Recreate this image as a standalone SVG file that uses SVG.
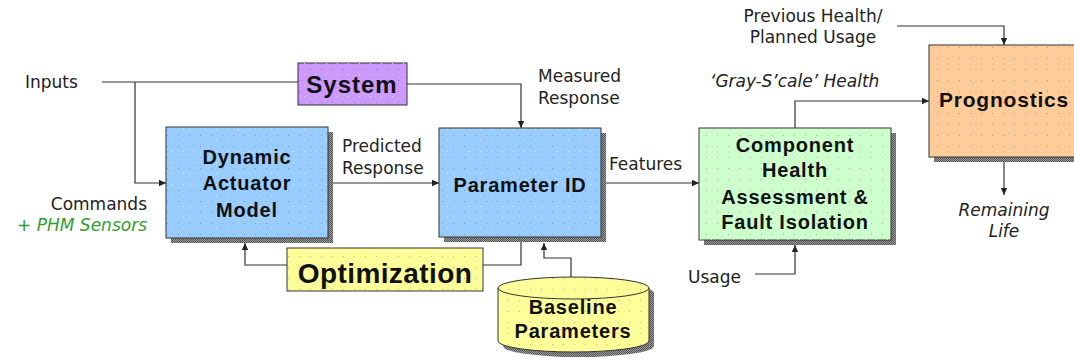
<svg xmlns="http://www.w3.org/2000/svg" width="1074" height="360" viewBox="0 0 1074 360">
  <defs>
    <!-- grainy drop shadow -->
    <pattern id="shade" width="2" height="2" patternUnits="userSpaceOnUse">
      <rect width="2" height="2" fill="#9a9a9a"/>
      <rect width="1" height="1" fill="#555"/>
      <rect x="1" y="1" width="1" height="1" fill="#555"/>
    </pattern>
    <!-- speckled box texture -->
    <pattern id="dots" width="11" height="11" patternUnits="userSpaceOnUse">
      <rect x="2" y="3" width="1" height="1" fill="#000" fill-opacity="0.25"/>
      <rect x="7" y="8" width="1" height="1" fill="#fff" fill-opacity="0.7"/>
    </pattern>
    <marker id="arr" markerWidth="8" markerHeight="8" refX="7" refY="4" orient="auto" markerUnits="userSpaceOnUse">
      <path d="M0,0.8 L7,4 L0,7.2 Z" fill="#222"/>
    </marker>
  </defs>
  <style>
    .box { stroke: #333; stroke-width: 1; }
    .tex { fill: url(#dots); }
    .shd { fill: url(#shade); }
    .lbl { font-family: "Liberation Sans", Arial, sans-serif; font-weight: bold; font-size: 20px; letter-spacing: 0.8px; fill: #111; text-anchor: middle; }
    .txt { font-family: "DejaVu Sans", sans-serif; font-size: 17px; fill: #222; }
    .it { font-style: italic; }
    .wire { fill: none; stroke: #333; stroke-width: 1.2; }
  </style>

  <g id="connectors">
    <!-- inputs to system, with branch to actuator model -->
    <path class="wire" d="M102,82 H298"/>
    <path class="wire" d="M135,82 V183 H166" marker-end="url(#arr)"/>
    <!-- measured response -->
    <path class="wire" d="M407,84 H521 V128" marker-end="url(#arr)"/>
    <!-- predicted response -->
    <path class="wire" d="M328,183 H439" marker-end="url(#arr)"/>
    <!-- features -->
    <path class="wire" d="M601,183 H699" marker-end="url(#arr)"/>
    <!-- gray-scale health -->
    <path class="wire" d="M795,128 V101 H929" marker-end="url(#arr)"/>
    <!-- previous health / planned usage -->
    <path class="wire" d="M897,26 H1004 V45" marker-end="url(#arr)"/>
    <!-- remaining life -->
    <path class="wire" d="M1004,162 V195" marker-end="url(#arr)"/>
    <!-- optimization loop -->
    <path class="wire" d="M287,265 H245 V243" marker-end="url(#arr)"/>
    <path class="wire" d="M483,265 H521 V242"/>
    <!-- baseline parameters -->
    <path class="wire" d="M571,290 V258 H544 V243" marker-end="url(#arr)"/>
    <!-- usage -->
    <path class="wire" d="M755,274 H795 V245" marker-end="url(#arr)"/>
  </g>

  <g id="system">
    <rect class="box" x="298" y="63" width="109" height="42" fill="#CC99FF"/>
    <rect class="tex" x="298" y="63" width="109" height="42"/>
    <text class="lbl" x="352" y="93" style="font-size:24px;letter-spacing:1px">System</text>
  </g>

  <g id="actuator-model">
    <rect class="shd" x="171" y="132" width="162" height="111"/>
    <rect class="box" x="166" y="127" width="162" height="111" fill="#99CCFF"/>
    <rect class="tex" x="166" y="127" width="162" height="111"/>
    <text class="lbl" x="247" y="164">Dynamic</text>
    <text class="lbl" x="247" y="190">Actuator</text>
    <text class="lbl" x="247" y="217">Model</text>
  </g>

  <g id="parameter-id">
    <rect class="shd" x="444" y="133" width="162" height="109"/>
    <rect class="box" x="439" y="128" width="162" height="109" fill="#99CCFF"/>
    <rect class="tex" x="439" y="128" width="162" height="109"/>
    <text class="lbl" x="520" y="192">Parameter ID</text>
  </g>

  <g id="health-assessment">
    <rect class="shd" x="704" y="133" width="192" height="112"/>
    <rect class="box" x="699" y="128" width="192" height="112" fill="#CCFFCC"/>
    <rect class="tex" x="699" y="128" width="192" height="112"/>
    <text class="lbl" x="795" y="152">Component</text>
    <text class="lbl" x="795" y="177">Health</text>
    <text class="lbl" x="795" y="204">Assessment &amp;</text>
    <text class="lbl" x="795" y="229">Fault Isolation</text>
  </g>

  <g id="prognostics">
    <rect class="shd" x="934" y="50" width="150" height="112"/>
    <rect class="box" x="929" y="45" width="150" height="112" fill="#FFCC99"/>
    <rect class="tex" x="929" y="45" width="150" height="112"/>
    <text class="lbl" x="1004" y="107" style="font-size:21px">Prognostics</text>
  </g>

  <g id="optimization">
    <rect class="box" x="287" y="248" width="196" height="43" fill="#FFFF99"/>
    <rect class="tex" x="287" y="248" width="196" height="43"/>
    <text class="lbl" x="385" y="283" style="font-size:28px;letter-spacing:0.4px">Optimization</text>
  </g>

  <g id="baseline-parameters">
    <path class="shd" d="M503,293 A75.5,11 0 0 1 654,293 V346 A75.5,11 0 0 1 503,346 Z"/>
    <path class="box" d="M498,288 A75.5,11 0 0 1 649,288 V341 A75.5,11 0 0 1 498,341 Z" fill="#FFFF99"/>
    <path class="tex" d="M498,288 A75.5,11 0 0 1 649,288 V341 A75.5,11 0 0 1 498,341 Z"/>
    <path class="box" d="M498,288 A75.5,11 0 0 0 649,288" fill="none"/>
    <text class="lbl" x="573" y="314">Baseline</text>
    <text class="lbl" x="573" y="338">Parameters</text>
  </g>

  <g id="labels">
    <text class="txt" x="25" y="88">Inputs</text>
    <text class="txt" x="147" y="210" text-anchor="end">Commands</text>
    <text class="txt it" x="147" y="231" text-anchor="end" style="fill:#2E9E2E">+ PHM Sensors</text>
    <text class="txt" x="538" y="82">Measured</text>
    <text class="txt" x="538" y="104">Response</text>
    <text class="txt" x="342" y="152">Predicted</text>
    <text class="txt" x="342" y="174">Response</text>
    <text class="txt" x="609" y="170">Features</text>
    <text class="txt it" x="710" y="87">‘Gray-S’cale’ Health</text>
    <text class="txt" x="813" y="22" text-anchor="middle">Previous Health/</text>
    <text class="txt" x="813" y="43" text-anchor="middle">Planned Usage</text>
    <text class="txt it" x="1004" y="216" text-anchor="middle">Remaining</text>
    <text class="txt it" x="1004" y="237" text-anchor="middle">Life</text>
    <text class="txt" x="688" y="283">Usage</text>
  </g>
</svg>
